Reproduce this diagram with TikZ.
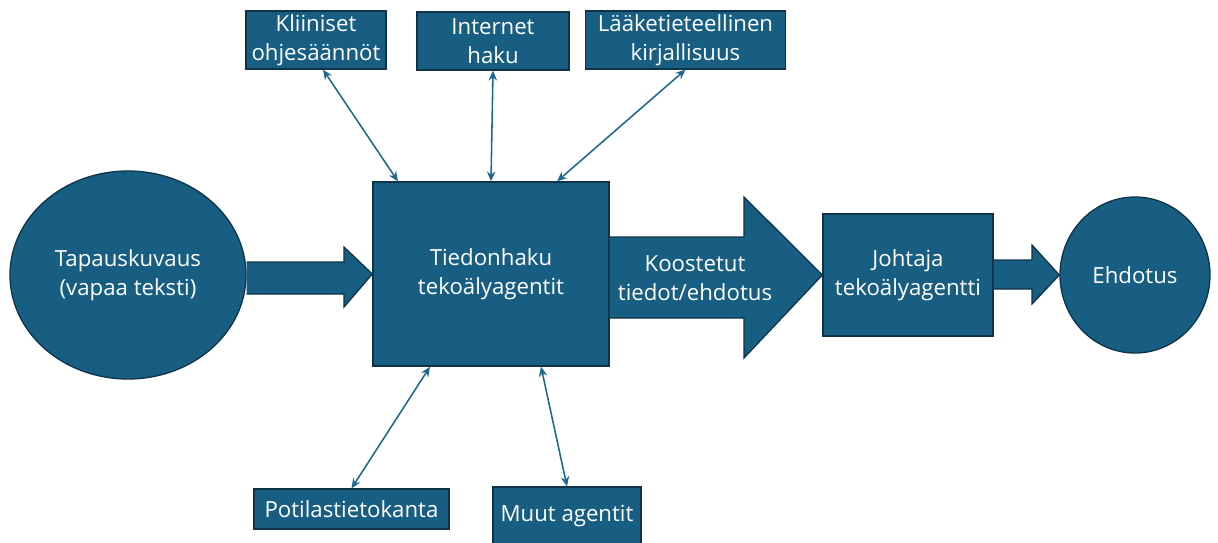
\documentclass[tikz,border=0pt]{standalone}
\usepackage{fontspec}
\setmainfont{Open Sans}
\usetikzlibrary{arrows.meta,calc}
\definecolor{boxfill}{HTML}{175E82}
\definecolor{boxline}{HTML}{0F3346}
\definecolor{connc}{HTML}{1D6890}
\tikzset{
  blk/.style={fill=boxfill,draw=boxline,line width=0.9pt},
  box/.style={blk,rectangle,text=white,align=center,font=\fontsize{15.8}{20.5}\selectfont,inner sep=0pt},
  circ/.style={blk,ellipse,text=white,align=center,font=\fontsize{15.8}{20.5}\selectfont,inner sep=0pt},
  lbl/.style={text=white,align=center,font=\fontsize{15.8}{20.5}\selectfont,inner sep=0pt},
  conn/.style={draw=connc,line width=1.1pt,{Stealth[length=7pt,width=6pt]}-{Stealth[length=7pt,width=6pt]}},
}
\usetikzlibrary{shapes.geometric}
\begin{document}
\begin{tikzpicture}[x=0.025cm,y=-0.025cm]
\useasboundingbox (0,0) rectangle (1218,542);
% nodes
\node[circ,minimum width=5.9cm,minimum height=5.2cm] (tap) at (128,275) {Tapauskuvaus\\(vapaa teksti)};
\node[box,minimum width=5.9cm,minimum height=4.6cm] (tied) at (491,274) {Tiedonhaku\\tekoälyagentit};
\node[box,minimum width=4.25cm,minimum height=3.05cm] (joh) at (908,275) {Johtaja\\tekoälyagentti};
\node[circ,minimum width=3.75cm,minimum height=3.9cm] (ehd) at (1135,275) {Ehdotus};
\node[box,minimum width=3.5cm,minimum height=1.45cm] (klin) at (316,40) {Kliiniset\\ohjesäännöt};
\node[box,minimum width=3.8cm,minimum height=1.45cm] (inet) at (493,41) {Internet\\haku};
\node[box,minimum width=5.0cm,minimum height=1.45cm] (laak) at (685.5,40) {Lääketieteellinen\\kirjallisuus};
\node[box,minimum width=4.875cm,minimum height=1.0cm] (pot) at (351.5,509) {Potilastietokanta};
\node[box,minimum width=3.7cm,minimum height=1.45cm] (muut) at (567,516) {Muut agentit};
% block arrows
\draw[blk] (tap.east |- 0,262) -- (344,262) -- (344,247) -- (tied.west) -- (344,307) -- (344,294) -- (tap.east |- 0,294);
\draw[blk] (tied.east |- 0,237) -- (744,237) -- (744,197) -- (joh.west) -- (744,358) -- (744,318) -- (tied.east |- 0,318);
\draw[blk] (joh.east |- 0,260) -- (1032,260) -- (1032,245) -- (ehd.west) -- (1032,304) -- (1032,289) -- (joh.east |- 0,289);
\node[lbl] (koos) at (695,278) {Koostetut\\tiedot/ehdotus};
% connectors
\draw[conn] ([xshift=0.175cm]klin.south) -- ([xshift=-2.325cm]tied.north);
\draw[conn] (inet.south) -- (tied.north);
\draw[conn] (laak.south) -- ([xshift=1.65cm]tied.north);
\draw[conn] ([xshift=-1.525cm]tied.south) -- (pot.north);
\draw[conn] ([xshift=1.25cm]tied.south) -- (muut.north);
\end{tikzpicture}
\end{document}
